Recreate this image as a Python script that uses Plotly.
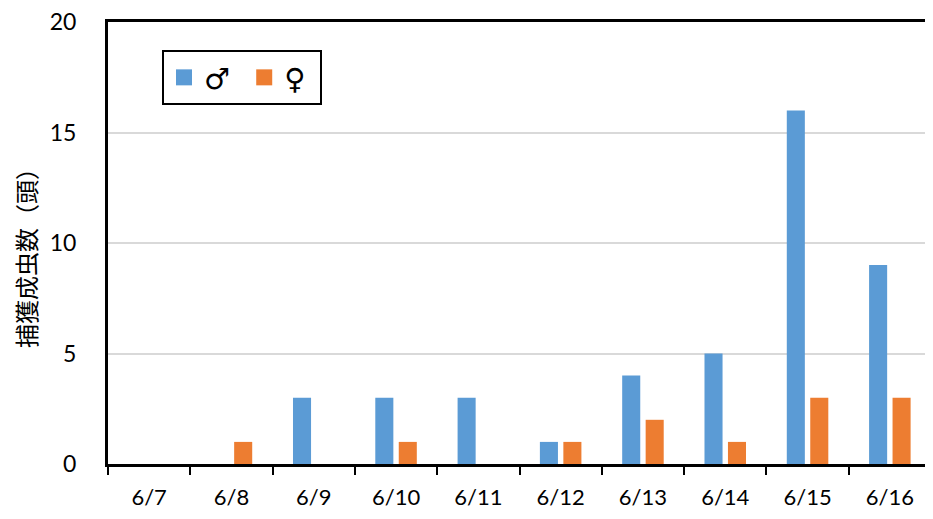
import plotly.graph_objects as go

dates = ["6/7", "6/8", "6/9", "6/10", "6/11", "6/12", "6/13", "6/14", "6/15", "6/16"]
male = [0, 0, 3, 3, 3, 1, 4, 5, 16, 9]
female = [0, 1, 0, 1, 0, 1, 2, 1, 3, 3]
y_ticks = [0, 5, 10, 15, 20]

# page body has an 8px margin, so work in figure coords = screen - 8
OFF = 8
W, H = 925, 511
L, R, T, B = 100, 2, 14, 55
pw = W - L - R
ph = H - T - B

def px(xs):
    return (xs - OFF - L) / pw

def py(ys):
    return (H - B - (ys - OFF)) / ph

BLUE = "#5B9BD5"
ORANGE = "#ED7D31"

fig = go.Figure()
fig.add_trace(go.Bar(x=dates, y=male, name="♂", marker=dict(color=BLUE, line=dict(width=0)), showlegend=False))
fig.add_trace(go.Bar(x=dates, y=female, name="♀", marker=dict(color=ORANGE, line=dict(width=0)), showlegend=False))
# legend-only entries with larger square swatches
fig.add_trace(go.Scatter(x=[None], y=[None], mode="markers", name="♂ ",
                         marker=dict(symbol="square", size=18, color=BLUE)))
fig.add_trace(go.Scatter(x=[None], y=[None], mode="markers", name="♀ ",
                         marker=dict(symbol="square", size=18, color=ORANGE)))

fig.update_layout(
    width=W, height=H,
    margin=dict(l=L, r=R, t=T, b=B),
    paper_bgcolor="white", plot_bgcolor="white",
    barmode="group", bargap=0.43, bargroupgap=0.23,
    font=dict(family="Lato, Carlito, Liberation Sans, sans-serif", size=22, color="black"),
    showlegend=True,
    legend=dict(
        orientation="h",
        x=px(162), y=py(50),
        xanchor="left", yanchor="top",
        bgcolor="white", bordercolor="black", borderwidth=2,
        font=dict(size=29, family="DejaVu Sans, sans-serif"),
        itemsizing="trace", itemwidth=30,
    ),
    xaxis=dict(
        type="category", automargin=False,
        showline=True, linecolor="black", linewidth=3, mirror=True,
        ticks="outside", tickson="boundaries", ticklen=8, tickwidth=2, tickcolor="black",
        showgrid=False, tickfont=dict(size=22), ticklabelstandoff=12, fixedrange=True,
    ),
    yaxis=dict(
        range=[0, 20], tickvals=y_ticks, automargin=False,
        showline=True, linecolor="black", linewidth=3, mirror=True,
        ticks="", showgrid=True, gridcolor="#d9d9d9", gridwidth=2,
        zeroline=False, tickfont=dict(size=23), ticklabelstandoff=24,
        ticklabeloverflow="allow", fixedrange=True,
    ),
    annotations=[dict(
        text="捕獲成虫数（頭）", textangle=-90,
        xref="paper", yref="paper",
        x=px(26), y=py(252),
        xanchor="center", yanchor="middle", showarrow=False,
        font=dict(size=24, family="Noto Sans CJK JP, sans-serif"),
    )],
)

fig.write_html("out.html")
